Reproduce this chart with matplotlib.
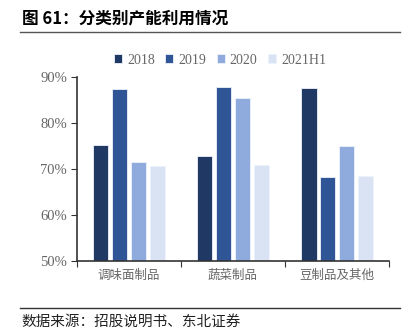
import matplotlib.pyplot as plt
import numpy as np

plt.rcParams['font.family'] = ['Liberation Serif', 'Noto Sans CJK SC']

categories = ['调味面制品', '蔬菜制品', '豆制品及其他']
years = ['2018', '2019', '2020', '2021H1']
v2018 = [75.2, 72.8, 87.7]
v2019 = [87.4, 87.9, 68.2]
v2020 = [71.6, 85.5, 74.9]
v2021h1 = [70.7, 70.9, 68.5]
colors = ['#1F3864', '#2F5597', '#8FAADC', '#DAE3F3']

fig = plt.figure(figsize=(4.07, 3.35), dpi=100)
ax = fig.add_axes([0.189, 0.221, 0.767, 0.549])

x = np.arange(len(categories))
w = 0.145
step = 0.18
for i, (vals, lab) in enumerate(zip([v2018, v2019, v2020, v2021h1], years)):
    ax.bar(x + (i - 1.5) * step, np.array(vals) - 50, w, bottom=50,
           color=colors[i], edgecolor='#eef2fa', linewidth=0.6, label=lab)

ax.set_ylim(50, 90)
ax.set_xlim(-0.5, 2.5)
ax.set_yticks([50, 60, 70, 80, 90])
ax.set_yticklabels(['50%', '60%', '70%', '80%', '90%'], color='#666666', fontsize=10.5)
ax.set_xticks([-0.5, 0.5, 1.5, 2.5])
ax.set_xticklabels([])
ax.set_xticks(x, minor=True)
ax.set_xticklabels(categories, minor=True, fontfamily='Noto Sans CJK SC',
                   color='#666666', fontsize=9)
ax.tick_params(axis='x', which='minor', length=0, pad=6)
ax.tick_params(axis='x', which='major', length=4, direction='out', color='#333333')
ax.tick_params(axis='y', length=4, direction='out', color='#333333', pad=3)
for s in ['top', 'right']:
    ax.spines[s].set_visible(False)
ax.spines['left'].set_color('#333333')
ax.spines['bottom'].set_color('#333333')
ax.spines['left'].set_linewidth(1.2)
ax.spines['bottom'].set_linewidth(1.2)

ax.legend(loc='center', bbox_to_anchor=(0.458, 1.092), ncol=4, frameon=False,
          fontsize=10, handlelength=0.6, handleheight=0.6, handletextpad=0.35,
          columnspacing=0.75, labelcolor='#666666', borderpad=0)

fig.text(0.054, 0.945, '图 61：分类别产能利用情况', fontfamily='Noto Sans CJK SC',
         fontweight='bold', fontsize=12, va='center', ha='left')
fig.add_artist(plt.Line2D([0.049, 0.983], [0.903, 0.903], color='#555555', linewidth=1))
fig.add_artist(plt.Line2D([0.049, 0.983], [0.082, 0.082], color='#333333', linewidth=1))
fig.text(0.052, 0.038, '数据来源：招股说明书、东北证券', fontfamily='Noto Sans CJK SC',
         fontsize=10.5, va='center', ha='left', color='#222222')

fig.savefig('out.png', dpi=100)
